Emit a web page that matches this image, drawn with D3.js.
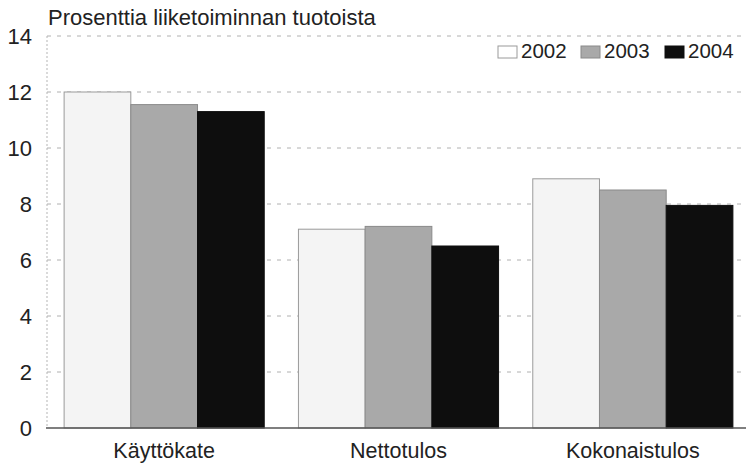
<!DOCTYPE html>
<html>
  <head>
    <meta charset="utf-8">
    <script src="https://d3js.org/d3.v7.min.js"></script>
    <style>
        body { margin: 0; background: #fff; }
        text { font-family: "Liberation Sans", Arial, sans-serif; fill: #222; }
    </style>
  </head>

  <body>
    <div id="my_dataviz"></div>
  </body>

  <script>

    // data
    let categories = ["Käyttökate", "Nettotulos", "Kokonaistulos"];
    let years = ["2002", "2003", "2004"];
    let values2002 = [12.0, 7.1, 8.9];
    let values2003 = [11.55, 7.2, 8.5];
    let values2004 = [11.3, 6.5, 7.95];
    let yTicks = [0, 2, 4, 6, 8, 10, 12, 14];
    let title = "Prosenttia liiketoiminnan tuotoista";

    let series = [values2002, values2003, values2004];
    let fills = ["#f4f4f4", "#a9a9a9", "#0e0e0e"];
    let strokes = ["#9a9a9a", "#8a8a8a", "#0e0e0e"];

    let width = 746, height = 465;
    let margin = {top: 36, right: -4, bottom: 37, left: 47};

    let svg = d3.select("#my_dataviz")
                .append("svg")
                    .attr("width", width)
                    .attr("height", height);

    let x = d3.scaleBand()
              .domain(categories)
              .range([margin.left, width - margin.right])
              .paddingInner(0.146)
              .paddingOuter(0.073);

    let xSub = d3.scaleBand()
                 .domain(years)
                 .range([0, x.bandwidth()]);

    let y = d3.scaleLinear()
              .domain([0, 14])
              .range([height - margin.bottom, margin.top]);

    // gridlines
    svg.append("g")
       .selectAll("line")
       .data(yTicks.filter(d => d > 0))
       .enter()
       .append("line")
         .attr("x1", margin.left)
         .attr("x2", width)
         .attr("y1", d => y(d))
         .attr("y2", d => y(d))
         .attr("stroke", "#b0b0b0")
         .attr("stroke-width", 1)
         .attr("stroke-dasharray", "4,6");

    // left axis line (light, dotted)
    svg.append("line")
       .attr("x1", margin.left).attr("x2", margin.left)
       .attr("y1", y(14)).attr("y2", y(0))
       .attr("stroke", "#b5b5b5")
       .attr("stroke-dasharray", "2,2");

    // bars
    let groups = svg.append("g")
       .selectAll("g")
       .data(categories)
       .enter()
       .append("g")
         .attr("transform", d => "translate(" + x(d) + ",0)");

    groups.selectAll("rect")
       .data((d, i) => years.map((yr, j) => ({year: yr, j: j, value: series[j][i]})))
       .enter()
       .append("rect")
         .attr("x", d => xSub(d.year))
         .attr("width", xSub.bandwidth())
         .attr("y", d => y(d.value))
         .attr("height", d => y(0) - y(d.value))
         .attr("fill", d => fills[d.j])
         .attr("stroke", d => strokes[d.j])
         .attr("stroke-width", 1);

    // bottom axis line
    svg.append("line")
       .attr("x1", margin.left - 1).attr("x2", width)
       .attr("y1", y(0)).attr("y2", y(0))
       .attr("stroke", "#555")
       .attr("stroke-width", 1.5);

    // y tick labels
    svg.append("g")
       .attr("transform", "translate(32,0)")
       .call(d3.axisLeft(y).tickValues(yTicks).tickSize(0).tickPadding(0))
       .call(g => g.select(".domain").remove())
       .call(g => g.selectAll("text")
                   .attr("font-size", "22px")
                   .attr("font-family", "Liberation Sans, Arial, sans-serif")
                   .attr("fill", "#222"));

    // category labels
    svg.append("g")
       .attr("transform", "translate(0," + y(0) + ")")
       .call(d3.axisBottom(x).tickSize(0).tickPadding(15))
       .call(g => g.select(".domain").remove())
       .call(g => g.selectAll("text")
                   .attr("font-size", "21.5px")
                   .attr("font-family", "Liberation Sans, Arial, sans-serif")
                   .attr("fill", "#222"));

    // title
    svg.append("text")
       .attr("x", 48)
       .attr("y", 25)
       .attr("font-size", "22px")
       .text(title);

    // legend
    let legendX = [498, 581, 665];
    let legend = svg.append("g")
       .selectAll("g")
       .data(years)
       .enter()
       .append("g")
         .attr("transform", (d, i) => "translate(" + legendX[i] + ",0)");

    legend.append("rect")
       .attr("x", 0)
       .attr("y", 46)
       .attr("width", 19)
       .attr("height", 12)
       .attr("fill", (d, i) => i == 0 ? "#fff" : fills[i])
       .attr("stroke", (d, i) => strokes[i]);

    legend.append("text")
       .attr("x", 23)
       .attr("y", 58)
       .attr("font-size", "20.5px")
       .text(d => d);

  </script>
</html>
